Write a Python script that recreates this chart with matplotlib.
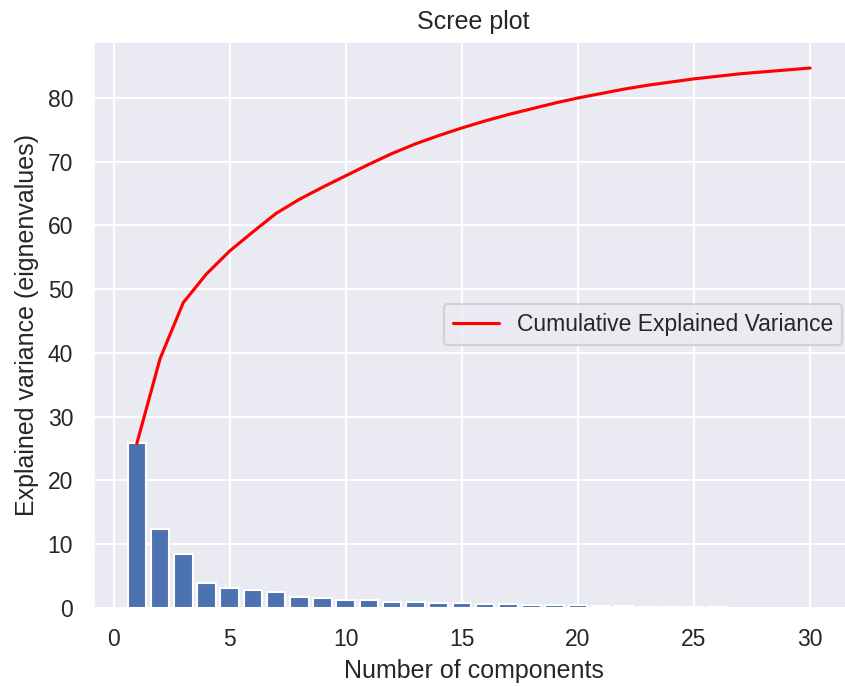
import matplotlib
matplotlib.use("Agg")
import matplotlib.pyplot as plt
import numpy as np
import seaborn as sns

# values
components = list(range(1, 31))
explained = [25.9, 12.4, 8.5, 4.0, 3.2, 2.8, 2.5, 1.8, 1.5, 1.3,
             1.2, 1.0, 0.9, 0.85, 0.75, 0.6, 0.55, 0.5, 0.45, 0.4,
             0.35, 0.3, 0.15, 0.12, 0.1, 0.08, 0.06, 0.05, 0.04, 0.03]
cumulative = [25.8, 39.1, 47.9, 52.4, 56.0, 59.0, 61.9, 64.1, 66.0, 67.8,
              69.6, 71.3, 72.8, 74.1, 75.3, 76.4, 77.4, 78.3, 79.2, 80.0,
              80.7, 81.4, 82.0, 82.5, 83.0, 83.4, 83.8, 84.1, 84.4, 84.7]

sns.set_theme()
plt.rcParams['font.family'] = ['Liberation Sans', 'DejaVu Sans']

fig = plt.figure(figsize=(845 / 150, 686 / 150), dpi=150)
ax = fig.add_axes([0.110, 0.1137, 0.9006, 0.8265])

ax.bar(components, explained, color='#4C72B0')
ax.plot(components, cumulative, color='red', label='Cumulative Explained Variance')

ax.set_title('Scree plot')
ax.set_xlabel('Number of components')
ax.set_ylabel('Explained variance (eignenvalues)')
ax.legend(loc='center right')

fig.savefig('out.png', dpi=150)
